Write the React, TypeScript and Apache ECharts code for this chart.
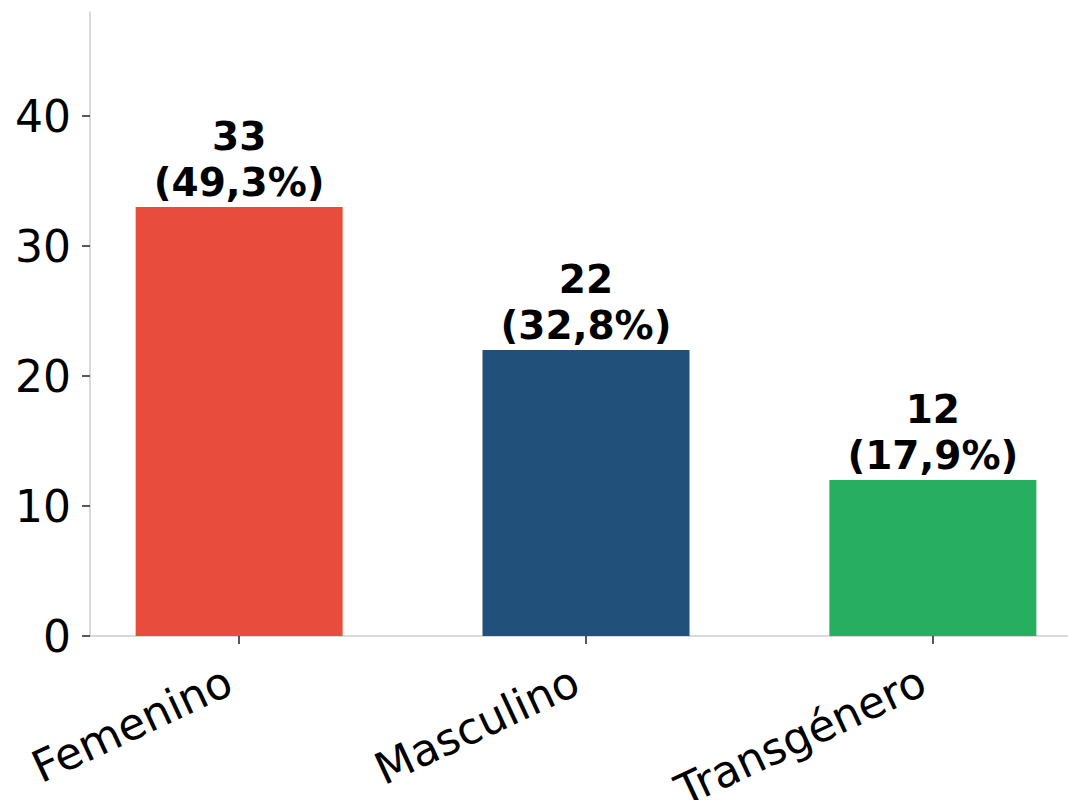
import React, { useEffect, useRef } from "react";
import * as echarts from "echarts";

const categories = ["Femenino", "Masculino", "Transgénero"];
const counts = [33, 22, 12];
const barColors = ["#E74C3C", "#21507A", "#27AE60"];
const yTicks = [0, 10, 20, 30, 40];
const xTicks = [0, 1, 2];

const FONT = "'DejaVu Sans', sans-serif";

export default function App() {
  const ref = useRef<HTMLDivElement>(null);
  useEffect(() => {
    if (!ref.current) return;
    const chart = echarts.init(ref.current, null, { renderer: "svg" });
    const total = counts.reduce((a, b) => a + b, 0);
    chart.setOption({
      animation: false,
      backgroundColor: "#ffffff",
      grid: { left: 90, top: 12, width: 992, height: 624, containLabel: false, outerBoundsMode: "none" },
      xAxis: {
        type: "value",
        min: -0.43,
        max: 2.43,
        splitLine: { show: false },
        axisLine: { show: true, onZero: false, lineStyle: { color: "#cccccc", width: 1.5 } },
        axisTick: { show: true, customValues: xTicks, length: 8, lineStyle: { color: "#222", width: 1.5 } },
        axisLabel: {
          customValues: xTicks,
          formatter: (v: number) => categories[Math.round(v)] ?? "",
          rotate: 25,
          fontSize: 44,
          fontFamily: FONT,
          color: "#000",
          margin: 38,
          padding: [0, 11, 0, 0],
        },
      },
      yAxis: {
        type: "value",
        min: 0,
        max: 48,
        splitLine: { show: false },
        axisLine: { show: true, onZero: false, lineStyle: { color: "#cccccc", width: 1.5 } },
        axisTick: { show: true, customValues: yTicks, length: 8, lineStyle: { color: "#222", width: 1.5 } },
        axisLabel: {
          customValues: yTicks,
          fontSize: 44,
          fontFamily: FONT,
          color: "#000",
          margin: 19,
        },
      },
      series: [
        {
          type: "bar",
          barWidth: 207,
          data: counts.map((v, i) => ({ value: [i, v], itemStyle: { color: barColors[i] } })),
          label: {
            show: true,
            position: "top",
            distance: 2,
            fontSize: 39,
            fontWeight: "bold",
            fontFamily: FONT,
            color: "#000",
            lineHeight: 46,
            align: "center",
            formatter: (p: any) => {
              const v = p.value[1];
              const pct = ((v / total) * 100).toFixed(1).replace(".", ",");
              return `${v}\n(${pct}%)`;
            },
          },
        },
      ],
    });
    return () => chart.dispose();
  }, []);
  return (
    <div
      ref={ref}
      style={{ position: "fixed", left: 0, top: 0, width: 1068, height: 800, background: "#fff" }}
    />
  );
}
